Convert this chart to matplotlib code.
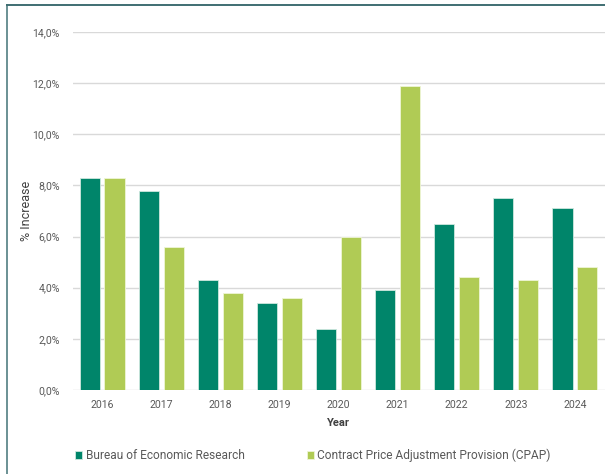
import matplotlib
matplotlib.use("Agg")
import matplotlib.pyplot as plt
from matplotlib.lines import Line2D
import numpy as np

years = ["2016", "2017", "2018", "2019", "2020", "2021", "2022", "2023", "2024"]
ber = [8.3, 7.8, 4.3, 3.4, 2.4, 3.9, 6.5, 7.5, 7.1]
cpap = [8.3, 5.6, 3.8, 3.6, 6.0, 11.9, 4.4, 4.3, 4.8]
series_names = ["Bureau of Economic Research", "Contract Price Adjustment Provision (CPAP)"]
yticks = [0, 2, 4, 6, 8, 10, 12, 14]

plt.rcParams['font.family'] = ['Roboto', 'DejaVu Sans']

W, H = 605, 474
fig = plt.figure(figsize=(W / 100, H / 100), dpi=100)
ax = fig.add_axes([72.5 / W, 1 - 390 / H, (604.5 - 72.5) / W, (390 - 32) / H])

x = np.arange(len(years))
bw = 0.34
dark = "#00856A"
light = "#B0CB55"
ax.bar(x - 0.21, ber, width=bw, color=dark, edgecolor="#CFE8DF", linewidth=0.6, label=series_names[0], zorder=3)
ax.bar(x + 0.21, cpap, width=bw, color=light, edgecolor="#EEF5D6", linewidth=0.6, label=series_names[1], zorder=3)

ax.set_xlim(-0.5, len(years) - 0.5)
ax.set_ylim(0, 14)
ax.set_yticks(yticks)
ax.set_yticklabels([f"{v:.1f}%".replace(".", ",") for v in yticks])
ax.set_xticks(x)
ax.set_xticklabels(years)
ax.grid(axis="y", color="#D9D9D9", linewidth=1.0, zorder=0)
for s in ax.spines.values():
    s.set_visible(False)
ax.tick_params(axis="both", length=0, labelsize=7.6, colors="#595959", pad=7)
ax.tick_params(axis="y", pad=9)

ax.set_xlabel("Year", fontsize=8, fontweight="bold", color="#404040", labelpad=6)
ax.set_ylabel("% Increase", fontsize=9, color="#404040")
ax.yaxis.set_label_coords(33 / W, 1 - 211 / H, transform=fig.transFigure)

leg = fig.legend(loc="upper left", bbox_to_anchor=(70 / W, 1 - 444 / H), ncol=2, frameon=False,
                 fontsize=8.6, handlelength=0.6, handleheight=0.6, handletextpad=0.3,
                 columnspacing=5.2, labelcolor="#595959", borderaxespad=0)

fig.add_artist(Line2D([7 / W, 7 / W], [0, 1 - 5 / H], transform=fig.transFigure, color="#6A9194", linewidth=1.4))
fig.add_artist(Line2D([7 / W, 1], [1 - 5 / H, 1 - 5 / H], transform=fig.transFigure, color="#3F6E72", linewidth=1.4))

fig.savefig("out.png", dpi=100)
